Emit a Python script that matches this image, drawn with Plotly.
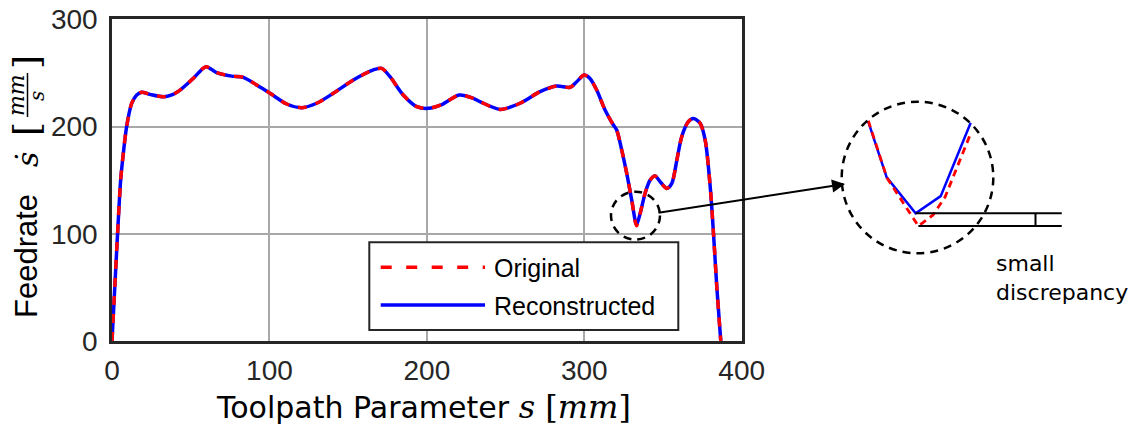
import plotly.graph_objects as go

# ---- feedrate profile along the toolpath (s in mm, feedrate in mm/s) ----
s_mm = [0, 3, 5.5, 7.2, 9.3, 12.5, 15.7, 18.9, 24.1, 32.6, 38, 43.2, 51.7, 59.7,
        66.5, 76, 83.4, 91.9, 100.4, 111, 120.5, 130, 140.6, 153.3, 166, 171.3,
        176.6, 185, 193.6, 201, 209.5, 220.5, 229.5, 234, 246.5, 259.2, 271.9,
        282.5, 291, 295.2, 299.9, 303.5, 307.9, 313.2, 318.5, 320.6, 323.8, 327,
        330.2, 333.2, 335.5, 338.6, 341.8, 345, 348.2, 352.4, 355.6, 358.8,
        361.9, 366.1, 369.3, 373.6, 376.8, 380, 382.1, 384.2, 386.7]
feed_original = [0, 85, 150, 175, 200, 221.6, 229.4, 232, 230, 227.8, 229.5, 234,
                 245, 255.8, 250.2, 247, 245.9, 238.7, 231, 221, 217.6, 221.7, 231,
                 243.4, 252.8, 254.3, 246.5, 229.4, 218.5, 217, 220.5, 229.4, 226.3,
                 223, 216, 221.7, 232.5, 237.8, 236.6, 241.8, 248, 245, 234, 215.4,
                 201.4, 196.7, 178, 156, 131, 107.5, 119, 137.6, 150, 153.8, 148.5,
                 142.3, 147, 168.7, 190.5, 204.5, 207.6, 203, 187.4, 143.8, 100, 50, 0]
feed_reconstructed = list(feed_original)
feed_reconstructed[s_mm.index(333.2)] = 108.5

# ---- magnified view around the minimum near s = 333 mm ----
zoom_s_reconstructed = [330.05, 331.28, 333.21, 334.88, 336.88]
zoom_v_reconstructed = [136.4, 119.3, 108.2, 113.5, 136.1]
zoom_s_original = [330.05, 331.3, 333.39, 334.37, 335.17, 336.88]
zoom_v_original = [136.7, 119.1, 104.3, 107.7, 113.2, 132.8]

x_ticks = [0, 100, 200, 300, 400]
y_ticks = [0, 100, 200, 300]

W, H = 1141, 430
AXIS_COLOR = "#262626"
SANS = "Liberation Sans, Arial, sans-serif"
VERDANA = "DejaVu Sans, Verdana, sans-serif"
SERIF = "DejaVu Serif, serif"


def fx(x):
    return x / W


def fy(y):
    return 1 - y / H


fig = go.Figure()

fig.add_trace(go.Scatter(
    x=s_mm, y=feed_reconstructed, mode="lines", name="Reconstructed",
    line=dict(color="#0000ff", width=3.5, shape="spline", smoothing=0.8),
    showlegend=False))
fig.add_trace(go.Scatter(
    x=s_mm, y=feed_original, mode="lines", name="Original",
    line=dict(color="#ff0000", width=3.5, dash="9px,9px", shape="spline", smoothing=0.8),
    showlegend=False))

fig.add_trace(go.Scatter(
    x=zoom_s_reconstructed, y=zoom_v_reconstructed, mode="lines",
    line=dict(color="#0000ff", width=2.5), xaxis="x2", yaxis="y2", showlegend=False))
fig.add_trace(go.Scatter(
    x=zoom_s_original, y=zoom_v_original, mode="lines",
    line=dict(color="#ff0000", width=2.8, dash="7px,5px"), xaxis="x2", yaxis="y2",
    showlegend=False))

fig.update_layout(
    width=W, height=H,
    margin=dict(l=0, r=0, t=0, b=0),
    paper_bgcolor="white", plot_bgcolor="white",
    xaxis=dict(domain=[fx(112), fx(741.7)], range=[0, 400], tickvals=x_ticks,
               showgrid=True, gridcolor="#a8a8a8", gridwidth=1.5, zeroline=False,
               showline=True, mirror=True, linecolor=AXIS_COLOR, linewidth=2.5,
               ticks="", ticklabelstandoff=3, automargin=False,
               tickfont=dict(family=SANS, size=28, color=AXIS_COLOR)),
    yaxis=dict(domain=[fy(341), fy(19.3)], range=[0, 300], tickvals=y_ticks,
               showgrid=True, gridcolor="#a8a8a8", gridwidth=1.5, zeroline=False,
               showline=True, mirror=True, linecolor=AXIS_COLOR, linewidth=2.5,
               ticks="", ticklabelstandoff=6, automargin=False,
               tickfont=dict(family=SANS, size=28, color=AXIS_COLOR)),
    xaxis2=dict(domain=[fx(860), fx(1065)], range=[329.5, 329.5 + 205 / 15],
                visible=False, anchor="y2"),
    yaxis2=dict(domain=[fy(240), fy(110)], range=[100, 140], visible=False, anchor="x2"),
)

shapes = []
annotations = []

# legend box with line samples
shapes.append(dict(type="rect", xref="paper", yref="paper", layer="above",
                   x0=fx(369.3), x1=fx(678.3), y0=fy(330), y1=fy(242.3),
                   line=dict(color=AXIS_COLOR, width=2), fillcolor="white"))
shapes.append(dict(type="line", xref="paper", yref="paper", layer="above",
                   x0=fx(380.7), x1=fx(485), y0=fy(267.3), y1=fy(267.3),
                   line=dict(color="#ff0000", width=3.5, dash="11px,14.5px")))
shapes.append(dict(type="line", xref="paper", yref="paper", layer="above",
                   x0=fx(380.7), x1=fx(485), y0=fy(305), y1=fy(305),
                   line=dict(color="#0000ff", width=3.5)))
for label, yc in [("Original", 268), ("Reconstructed", 306)]:
    annotations.append(dict(text=label, xref="paper", yref="paper", x=fx(492), y=fy(yc),
                            xanchor="left", yanchor="middle", showarrow=False,
                            font=dict(family=SANS, size=25, color="black")))

# dashed circles marking the minimum and its magnified view
circle_dash = "8px,6px"
shapes.append(dict(type="circle", xref="paper", yref="paper", layer="above",
                   x0=fx(611), x1=fx(660), y0=fy(239.5), y1=fy(191.7),
                   line=dict(color="black", width=2.5, dash=circle_dash)))
shapes.append(dict(type="circle", xref="paper", yref="paper", layer="above",
                   x0=fx(841.7), x1=fx(993.3), y0=fy(253.3), y1=fy(101.7),
                   line=dict(color="black", width=2.5, dash=circle_dash)))

# discrepancy markers between the two minima
rec_min = min(zoom_v_reconstructed)
orig_min = min(zoom_v_original)
rec_min_s = zoom_s_reconstructed[zoom_v_reconstructed.index(rec_min)]
orig_min_s = zoom_s_original[zoom_v_original.index(orig_min)]
line_end = 342.95
shapes.append(dict(type="line", xref="x2", yref="y2", x0=rec_min_s, x1=line_end,
                   y0=rec_min, y1=rec_min, line=dict(color="black", width=2)))
shapes.append(dict(type="line", xref="x2", yref="y2", x0=orig_min_s, x1=line_end,
                   y0=orig_min, y1=orig_min, line=dict(color="black", width=2)))
shapes.append(dict(type="line", xref="x2", yref="y2", x0=341.2, x1=341.2,
                   y0=orig_min, y1=rec_min, line=dict(color="black", width=2)))

annotations.append(dict(text="small", xref="paper", yref="paper", x=fx(994), y=fy(263.5),
                        xanchor="left", yanchor="middle", showarrow=False,
                        font=dict(family=VERDANA, size=22, color="black")))
annotations.append(dict(text="discrepancy", xref="paper", yref="paper", x=fx(994), y=fy(292.5),
                        xanchor="left", yanchor="middle", showarrow=False,
                        font=dict(family=VERDANA, size=22, color="black")))

# arrow from the marked minimum to the magnified view
annotations.append(dict(text="", xref="paper", yref="paper", x=fx(845), y=fy(184),
                        ax=657 - 845, ay=213 - 184, showarrow=True, arrowhead=2,
                        arrowsize=1.3, arrowwidth=2, arrowcolor="black"))

# x-axis title
annotations.append(dict(
    text=("Toolpath Parameter "
          f"<span style='font-family:{SERIF};font-size:32px'><i>s</i> [<i>mm</i>]</span>"),
    xref="paper", yref="paper", x=fx(423), y=fy(407), xanchor="center", yanchor="middle",
    showarrow=False, font=dict(family=VERDANA, size=30, color="black")))

# y-axis title: Feedrate  s-dot [mm / s]
annotations.append(dict(text="Feedrate", xref="paper", yref="paper", x=fx(26), y=fy(256),
                        textangle=-90, xanchor="center", yanchor="middle", showarrow=False,
                        font=dict(family=SANS, size=31, color="black")))
annotations.append(dict(text="<i>ṡ</i>", xref="paper", yref="paper", x=fx(27), y=fy(160),
                        textangle=-90, xanchor="center", yanchor="middle", showarrow=False,
                        font=dict(family=SERIF, size=30, color="black")))
annotations.append(dict(text="[", xref="paper", yref="paper", x=fx(26), y=fy(129),
                        textangle=-90, xanchor="center", yanchor="middle", showarrow=False,
                        font=dict(family=SERIF, size=36, color="black")))
annotations.append(dict(text="]", xref="paper", yref="paper", x=fx(26), y=fy(62),
                        textangle=-90, xanchor="center", yanchor="middle", showarrow=False,
                        font=dict(family=SERIF, size=36, color="black")))
annotations.append(dict(text="<i>mm</i>", xref="paper", yref="paper", x=fx(17), y=fy(95),
                        textangle=-90, xanchor="center", yanchor="middle", showarrow=False,
                        font=dict(family=SERIF, size=22, color="black")))
annotations.append(dict(text="<i>s</i>", xref="paper", yref="paper", x=fx(37), y=fy(96),
                        textangle=-90, xanchor="center", yanchor="middle", showarrow=False,
                        font=dict(family=SERIF, size=20, color="black")))
shapes.append(dict(type="line", xref="paper", yref="paper", x0=fx(27.5), x1=fx(27.5),
                   y0=fy(73), y1=fy(117), line=dict(color="black", width=1.5)))

fig.update_layout(shapes=shapes, annotations=annotations)
fig.write_html("out.html")
